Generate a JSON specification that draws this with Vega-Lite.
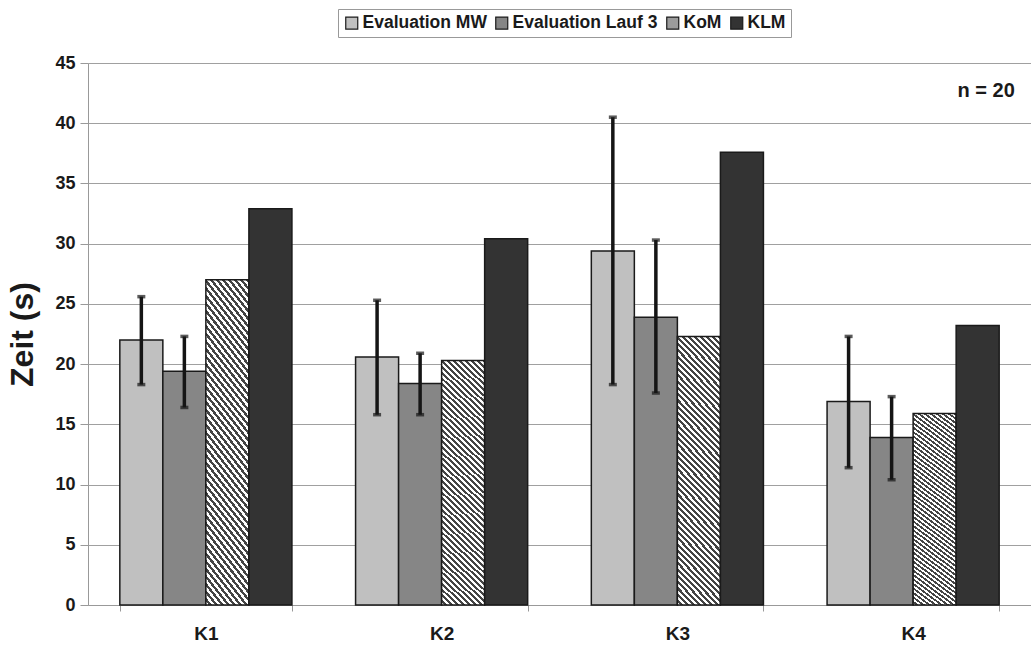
{
  "$schema": "https://vega.github.io/schema/vega-lite/v6.json",
  "autosize": "none",
  "width": 943,
  "height": 542,
  "padding": {"left": 88, "top": 63, "right": 0, "bottom": 40},
  "background": "white",
  "config": {
    "font": "Liberation Sans",
    "view": {"stroke": null},
    "axis": {"labelFont": "Liberation Sans", "titleFont": "Liberation Sans"}
  },
  "datasets": {
    "bars": [
      {"cat": "K1", "series": "Evaluation MW", "value": 22.0, "lo": 18.3, "hi": 25.6},
      {"cat": "K1", "series": "Evaluation Lauf 3", "value": 19.4, "lo": 16.4, "hi": 22.3},
      {"cat": "K1", "series": "KoM", "value": 27.0, "lo": null, "hi": null},
      {"cat": "K1", "series": "KLM", "value": 32.9, "lo": null, "hi": null},
      {"cat": "K2", "series": "Evaluation MW", "value": 20.6, "lo": 15.8, "hi": 25.3},
      {"cat": "K2", "series": "Evaluation Lauf 3", "value": 18.4, "lo": 15.8, "hi": 20.9},
      {"cat": "K2", "series": "KoM", "value": 20.3, "lo": null, "hi": null},
      {"cat": "K2", "series": "KLM", "value": 30.4, "lo": null, "hi": null},
      {"cat": "K3", "series": "Evaluation MW", "value": 29.4, "lo": 18.3, "hi": 40.5},
      {"cat": "K3", "series": "Evaluation Lauf 3", "value": 23.9, "lo": 17.6, "hi": 30.3},
      {"cat": "K3", "series": "KoM", "value": 22.3, "lo": null, "hi": null},
      {"cat": "K3", "series": "KLM", "value": 37.6, "lo": null, "hi": null},
      {"cat": "K4", "series": "Evaluation MW", "value": 16.9, "lo": 11.4, "hi": 22.3},
      {"cat": "K4", "series": "Evaluation Lauf 3", "value": 13.9, "lo": 10.4, "hi": 17.3},
      {"cat": "K4", "series": "KoM", "value": 15.9, "lo": null, "hi": null},
      {"cat": "K4", "series": "KLM", "value": 23.2, "lo": null, "hi": null}
    ],
    "note": [{"label": "n = 20", "cat": "K4", "y": 42.7}]
  },
  "layer": [
    {
      "data": {"name": "bars"},
      "mark": {"type": "bar", "stroke": "#1a1a1a", "strokeWidth": 1.5},
      "encoding": {
        "x": {
          "field": "cat", "type": "nominal",
          "scale": {"paddingInner": 0.27, "paddingOuter": 0.135},
          "axis": {
            "title": null, "labelAngle": 0, "labelFontSize": 19, "labelFontWeight": "bold",
            "labelColor": "#1a1a1a", "labelPadding": 13, "tickBand": "extent",
            "tickColor": "#999999", "tickSize": 6, "domainColor": "#999999", "grid": false
          }
        },
        "xOffset": {
          "field": "series", "type": "nominal",
          "sort": ["Evaluation MW", "Evaluation Lauf 3", "KoM", "KLM"],
          "scale": {"paddingInner": 0, "paddingOuter": 0}
        },
        "y": {
          "field": "value", "type": "quantitative",
          "scale": {"domain": [0, 45], "nice": false},
          "axis": {
            "title": "Zeit (s)", "titleFontSize": 32, "titleFontWeight": "bold", "titleColor": "#1a1a1a",
            "titlePadding": 15,
            "values": [0, 5, 10, 15, 20, 25, 30, 35, 40, 45],
            "labelFontSize": 18, "labelFontWeight": "bold", "labelColor": "#1a1a1a", "labelPadding": 5,
            "tickColor": "#999999", "tickSize": 8, "domainColor": "#999999",
            "gridColor": "#a0a0a0", "gridWidth": 1.2
          }
        },
        "fill": {
          "field": "series", "type": "nominal",
          "sort": ["Evaluation MW", "Evaluation Lauf 3", "KoM", "KLM"],
          "scale": {"range": ["#c0c0c0", "#868686", "#9c9c9c", "#333333"]},
          "condition": {
            "test": "datum.series === 'KoM'",
            "value": {
              "gradient": "linear", "x1": 0, "y1": 1, "x2": 0.189, "y2": -0.135,
              "stops": [
                {"offset":0,"color":"#fff"},{"offset":0.01,"color":"#fff"},{"offset":0.01,"color":"#444"},{"offset":0.02,"color":"#444"},{"offset":0.02,"color":"#fff"},{"offset":0.03,"color":"#fff"},{"offset":0.03,"color":"#444"},{"offset":0.04,"color":"#444"},{"offset":0.04,"color":"#fff"},{"offset":0.05,"color":"#fff"},{"offset":0.05,"color":"#444"},{"offset":0.06,"color":"#444"},{"offset":0.06,"color":"#fff"},{"offset":0.07,"color":"#fff"},{"offset":0.07,"color":"#444"},{"offset":0.08,"color":"#444"},{"offset":0.08,"color":"#fff"},{"offset":0.09,"color":"#fff"},{"offset":0.09,"color":"#444"},{"offset":0.1,"color":"#444"},
                {"offset":0.1,"color":"#fff"},{"offset":0.11,"color":"#fff"},{"offset":0.11,"color":"#444"},{"offset":0.12,"color":"#444"},{"offset":0.12,"color":"#fff"},{"offset":0.13,"color":"#fff"},{"offset":0.13,"color":"#444"},{"offset":0.14,"color":"#444"},{"offset":0.14,"color":"#fff"},{"offset":0.15,"color":"#fff"},{"offset":0.15,"color":"#444"},{"offset":0.16,"color":"#444"},{"offset":0.16,"color":"#fff"},{"offset":0.17,"color":"#fff"},{"offset":0.17,"color":"#444"},{"offset":0.18,"color":"#444"},{"offset":0.18,"color":"#fff"},{"offset":0.19,"color":"#fff"},{"offset":0.19,"color":"#444"},{"offset":0.2,"color":"#444"},
                {"offset":0.2,"color":"#fff"},{"offset":0.21,"color":"#fff"},{"offset":0.21,"color":"#444"},{"offset":0.22,"color":"#444"},{"offset":0.22,"color":"#fff"},{"offset":0.23,"color":"#fff"},{"offset":0.23,"color":"#444"},{"offset":0.24,"color":"#444"},{"offset":0.24,"color":"#fff"},{"offset":0.25,"color":"#fff"},{"offset":0.25,"color":"#444"},{"offset":0.26,"color":"#444"},{"offset":0.26,"color":"#fff"},{"offset":0.27,"color":"#fff"},{"offset":0.27,"color":"#444"},{"offset":0.28,"color":"#444"},{"offset":0.28,"color":"#fff"},{"offset":0.29,"color":"#fff"},{"offset":0.29,"color":"#444"},{"offset":0.3,"color":"#444"},
                {"offset":0.3,"color":"#fff"},{"offset":0.31,"color":"#fff"},{"offset":0.31,"color":"#444"},{"offset":0.32,"color":"#444"},{"offset":0.32,"color":"#fff"},{"offset":0.33,"color":"#fff"},{"offset":0.33,"color":"#444"},{"offset":0.34,"color":"#444"},{"offset":0.34,"color":"#fff"},{"offset":0.35,"color":"#fff"},{"offset":0.35,"color":"#444"},{"offset":0.36,"color":"#444"},{"offset":0.36,"color":"#fff"},{"offset":0.37,"color":"#fff"},{"offset":0.37,"color":"#444"},{"offset":0.38,"color":"#444"},{"offset":0.38,"color":"#fff"},{"offset":0.39,"color":"#fff"},{"offset":0.39,"color":"#444"},{"offset":0.4,"color":"#444"},
                {"offset":0.4,"color":"#fff"},{"offset":0.41,"color":"#fff"},{"offset":0.41,"color":"#444"},{"offset":0.42,"color":"#444"},{"offset":0.42,"color":"#fff"},{"offset":0.43,"color":"#fff"},{"offset":0.43,"color":"#444"},{"offset":0.44,"color":"#444"},{"offset":0.44,"color":"#fff"},{"offset":0.45,"color":"#fff"},{"offset":0.45,"color":"#444"},{"offset":0.46,"color":"#444"},{"offset":0.46,"color":"#fff"},{"offset":0.47,"color":"#fff"},{"offset":0.47,"color":"#444"},{"offset":0.48,"color":"#444"},{"offset":0.48,"color":"#fff"},{"offset":0.49,"color":"#fff"},{"offset":0.49,"color":"#444"},{"offset":0.5,"color":"#444"},
                {"offset":0.5,"color":"#fff"},{"offset":0.51,"color":"#fff"},{"offset":0.51,"color":"#444"},{"offset":0.52,"color":"#444"},{"offset":0.52,"color":"#fff"},{"offset":0.53,"color":"#fff"},{"offset":0.53,"color":"#444"},{"offset":0.54,"color":"#444"},{"offset":0.54,"color":"#fff"},{"offset":0.55,"color":"#fff"},{"offset":0.55,"color":"#444"},{"offset":0.56,"color":"#444"},{"offset":0.56,"color":"#fff"},{"offset":0.57,"color":"#fff"},{"offset":0.57,"color":"#444"},{"offset":0.58,"color":"#444"},{"offset":0.58,"color":"#fff"},{"offset":0.59,"color":"#fff"},{"offset":0.59,"color":"#444"},{"offset":0.6,"color":"#444"},
                {"offset":0.6,"color":"#fff"},{"offset":0.61,"color":"#fff"},{"offset":0.61,"color":"#444"},{"offset":0.62,"color":"#444"},{"offset":0.62,"color":"#fff"},{"offset":0.63,"color":"#fff"},{"offset":0.63,"color":"#444"},{"offset":0.64,"color":"#444"},{"offset":0.64,"color":"#fff"},{"offset":0.65,"color":"#fff"},{"offset":0.65,"color":"#444"},{"offset":0.66,"color":"#444"},{"offset":0.66,"color":"#fff"},{"offset":0.67,"color":"#fff"},{"offset":0.67,"color":"#444"},{"offset":0.68,"color":"#444"},{"offset":0.68,"color":"#fff"},{"offset":0.69,"color":"#fff"},{"offset":0.69,"color":"#444"},{"offset":0.7,"color":"#444"},
                {"offset":0.7,"color":"#fff"},{"offset":0.71,"color":"#fff"},{"offset":0.71,"color":"#444"},{"offset":0.72,"color":"#444"},{"offset":0.72,"color":"#fff"},{"offset":0.73,"color":"#fff"},{"offset":0.73,"color":"#444"},{"offset":0.74,"color":"#444"},{"offset":0.74,"color":"#fff"},{"offset":0.75,"color":"#fff"},{"offset":0.75,"color":"#444"},{"offset":0.76,"color":"#444"},{"offset":0.76,"color":"#fff"},{"offset":0.77,"color":"#fff"},{"offset":0.77,"color":"#444"},{"offset":0.78,"color":"#444"},{"offset":0.78,"color":"#fff"},{"offset":0.79,"color":"#fff"},{"offset":0.79,"color":"#444"},{"offset":0.8,"color":"#444"},
                {"offset":0.8,"color":"#fff"},{"offset":0.81,"color":"#fff"},{"offset":0.81,"color":"#444"},{"offset":0.82,"color":"#444"},{"offset":0.82,"color":"#fff"},{"offset":0.83,"color":"#fff"},{"offset":0.83,"color":"#444"},{"offset":0.84,"color":"#444"},{"offset":0.84,"color":"#fff"},{"offset":0.85,"color":"#fff"},{"offset":0.85,"color":"#444"},{"offset":0.86,"color":"#444"},{"offset":0.86,"color":"#fff"},{"offset":0.87,"color":"#fff"},{"offset":0.87,"color":"#444"},{"offset":0.88,"color":"#444"},{"offset":0.88,"color":"#fff"},{"offset":0.89,"color":"#fff"},{"offset":0.89,"color":"#444"},{"offset":0.9,"color":"#444"},
                {"offset":0.9,"color":"#fff"},{"offset":0.91,"color":"#fff"},{"offset":0.91,"color":"#444"},{"offset":0.92,"color":"#444"},{"offset":0.92,"color":"#fff"},{"offset":0.93,"color":"#fff"},{"offset":0.93,"color":"#444"},{"offset":0.94,"color":"#444"},{"offset":0.94,"color":"#fff"},{"offset":0.95,"color":"#fff"},{"offset":0.95,"color":"#444"},{"offset":0.96,"color":"#444"},{"offset":0.96,"color":"#fff"},{"offset":0.97,"color":"#fff"},{"offset":0.97,"color":"#444"},{"offset":0.98,"color":"#444"},{"offset":0.98,"color":"#fff"},{"offset":0.99,"color":"#fff"},{"offset":0.99,"color":"#444"},{"offset":1,"color":"#444"}
              ]
            }
          },
          "legend": {
            "title": null, "orient": "none", "direction": "horizontal",
            "legendX": 250, "legendY": -54,
            "symbolType": "square", "symbolSize": 144, "symbolStrokeColor": "#1a1a1a", "symbolStrokeWidth": 1.2,
            "labelFontSize": 17.5, "labelFontWeight": "bold", "labelColor": "#1a1a1a",
            "labelOffset": 2, "columnPadding": 6, "padding": 5,
            "strokeColor": "#999999"
          }
        }
      }
    },
    {
      "data": {"name": "bars"},
      "transform": [{"filter": "datum.lo != null"}],
      "mark": {"type": "rule", "color": "#151515", "strokeWidth": 3.5},
      "encoding": {
        "x": {"field": "cat", "type": "nominal"},
        "xOffset": {"field": "series", "type": "nominal", "sort": ["Evaluation MW", "Evaluation Lauf 3", "KoM", "KLM"]},
        "y": {"field": "lo", "type": "quantitative"},
        "y2": {"field": "hi"}
      }
    },
    {
      "data": {"name": "bars"},
      "transform": [{"filter": "datum.lo != null"}],
      "mark": {"type": "tick", "color": "#151515", "thickness": 3.5, "size": 8, "orient": "horizontal"},
      "encoding": {
        "x": {"field": "cat", "type": "nominal"},
        "xOffset": {"field": "series", "type": "nominal", "sort": ["Evaluation MW", "Evaluation Lauf 3", "KoM", "KLM"]},
        "y": {"field": "lo", "type": "quantitative"}
      }
    },
    {
      "data": {"name": "bars"},
      "transform": [{"filter": "datum.lo != null"}],
      "mark": {"type": "tick", "color": "#151515", "thickness": 3.5, "size": 8, "orient": "horizontal"},
      "encoding": {
        "x": {"field": "cat", "type": "nominal"},
        "xOffset": {"field": "series", "type": "nominal", "sort": ["Evaluation MW", "Evaluation Lauf 3", "KoM", "KLM"]},
        "y": {"field": "hi", "type": "quantitative"}
      }
    },
    {
      "data": {"name": "note"},
      "mark": {"type": "text", "font": "Liberation Sans", "fontSize": 20, "fontWeight": "bold", "color": "#1a1a1a", "dx": 73, "align": "center", "baseline": "middle"},
      "encoding": {
        "x": {"field": "cat", "type": "nominal"},
        "y": {"field": "y", "type": "quantitative"},
        "text": {"field": "label"}
      }
    }
  ]
}
